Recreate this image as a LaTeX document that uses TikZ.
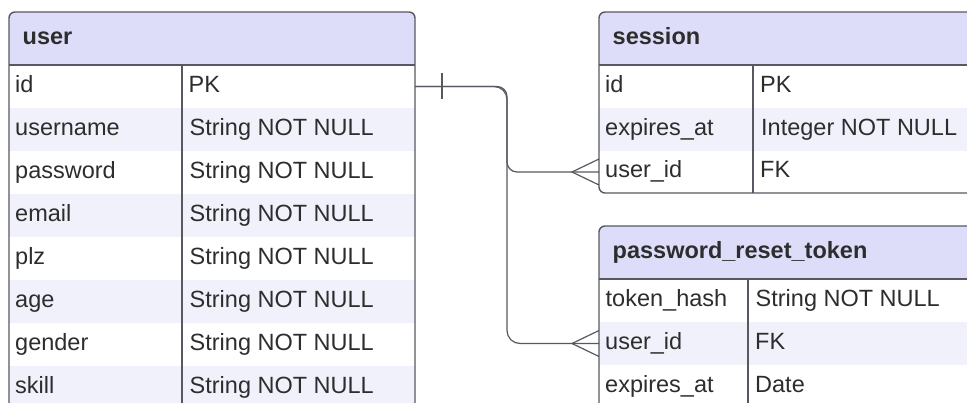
\documentclass[tikz,border=0pt]{standalone}
\usepackage{fontspec}
\setmainfont{Liberation Sans}
\usetikzlibrary{calc}
\definecolor{hdr}{RGB}{221,221,250}
\definecolor{alt}{RGB}{241,241,252}
\definecolor{bord}{RGB}{88,88,98}
\definecolor{txt}{RGB}{45,45,45}
\tikzset{
  cell/.style={anchor=west, inner sep=0pt, text height=17pt, text depth=5pt,
    font=\fontsize{23.5}{28}\selectfont, text=txt},
  head/.style={cell, font=\fontsize{23.5}{28}\selectfont\bfseries},
  frame/.style={draw=bord, line width=1.4pt},
  conn/.style={draw=bord, line width=1.2pt},
}
\begin{document}
\begin{tikzpicture}[x=1pt,y=-1pt]
\useasboundingbox (0,0) rectangle (967,403);
\clip (0,0) rectangle (967,403);

% ---------- user table ----------
\begin{scope}
  \clip[rounded corners=6pt] (9,12) rectangle (415,470);
  \fill[white] (9,12) rectangle (415,470);
  \fill[hdr] (9,12) rectangle (415,65);
  \foreach \y in {108,194,280,366} \fill[alt] (9,\y) rectangle (415,\y+43);
\end{scope}
\draw[frame] (9,65) -- (415,65);
\draw[frame] (182,65) -- (182,470);
\draw[frame, rounded corners=6pt] (9,12) rectangle (415,470);
\node[head] (user) at (22.5,38.5) {user};
\node[cell] (u1) at (15,86.5) {id};          \node[cell] (u1t) at (188.5,86.5) {PK};
\node[cell] (u2) at (15,129.5) {username};   \node[cell] (u2t) at (189.5,129.5) {String NOT NULL};
\node[cell] (u3) at (15,172.5) {password};   \node[cell] (u3t) at (189.5,172.5) {String NOT NULL};
\node[cell] (u4) at (15,215.5) {email};      \node[cell] (u4t) at (189.5,215.5) {String NOT NULL};
\node[cell] (u5) at (15,258.5) {plz};        \node[cell] (u5t) at (189.5,258.5) {String NOT NULL};
\node[cell] (u6) at (15,301.5) {age};        \node[cell] (u6t) at (189.5,301.5) {String NOT NULL};
\node[cell] (u7) at (15,344.5) {gender};     \node[cell] (u7t) at (189.5,344.5) {String NOT NULL};
\node[cell] (u8) at (15,387.5) {skill};      \node[cell] (u8t) at (189.5,387.5) {String NOT NULL};

% ---------- session table ----------
\begin{scope}
  \clip[rounded corners=6pt] (599,12) rectangle (990,193);
  \fill[white] (599,12) rectangle (990,193);
  \fill[hdr] (599,12) rectangle (990,65);
  \fill[alt] (599,108) rectangle (990,151);
\end{scope}
\draw[frame] (599,65) -- (990,65);
\draw[frame] (753,65) -- (753,193);
\draw[frame, rounded corners=6pt] (599,12) rectangle (990,193);
\node[head] (session) at (612.5,38.5) {session};
\node[cell] (s1) at (605,86.5) {id};          \node[cell] (s1t) at (760,86.5) {PK};
\node[cell] (s2) at (605,129.5) {expires\_at}; \node[cell] (s2t) at (761,129.5) {Integer NOT NULL};
\node[cell] (s3) at (605,172) {user\_id};     \node[cell] (s3t) at (760,172) {FK};

% ---------- password_reset_token table ----------
\begin{scope}
  \clip[rounded corners=6pt] (599,226) rectangle (990,470);
  \fill[white] (599,226) rectangle (990,470);
  \fill[hdr] (599,226) rectangle (990,279);
  \fill[alt] (599,322) rectangle (990,365);
\end{scope}
\draw[frame] (599,279) -- (990,279);
\draw[frame] (748,279) -- (748,470);
\draw[frame, rounded corners=6pt] (599,226) rectangle (990,470);
\node[head] (prt) at (612.5,252.5) {password\_reset\_token};
\node[cell] (p1) at (605.5,300.5) {token\_hash}; \node[cell] (p1t) at (755.5,300.5) {String NOT NULL};
\node[cell] (p2) at (605,343.5) {user\_id};      \node[cell] (p2t) at (755,343.5) {FK};
\node[cell] (p3) at (605,386.5) {expires\_at};   \node[cell] (p3t) at (755,386.5) {Date};

% ---------- connectors ----------
\coordinate (uidR) at (415,86.5);
\coordinate (suidL) at (599,172);
\coordinate (puidL) at (599,343.5);
\draw[conn, rounded corners=10pt] (uidR) -- ++(92,0) |- (suidL);
\draw[conn, rounded corners=13pt] (uidR) -- ++(92,0) |- (puidL);
% one (bar)
\draw[conn] ($(uidR)+(27,-13)$) -- ($(uidR)+(27,13)$);
% many (crow's feet)
\draw[conn] ($(suidL)+(0,-13)$) -- ($(suidL)+(-27,0)$) -- ($(suidL)+(0,13)$);
\draw[conn] ($(puidL)+(0,-13)$) -- ($(puidL)+(-27,0)$) -- ($(puidL)+(0,13)$);
\end{tikzpicture}
\end{document}
